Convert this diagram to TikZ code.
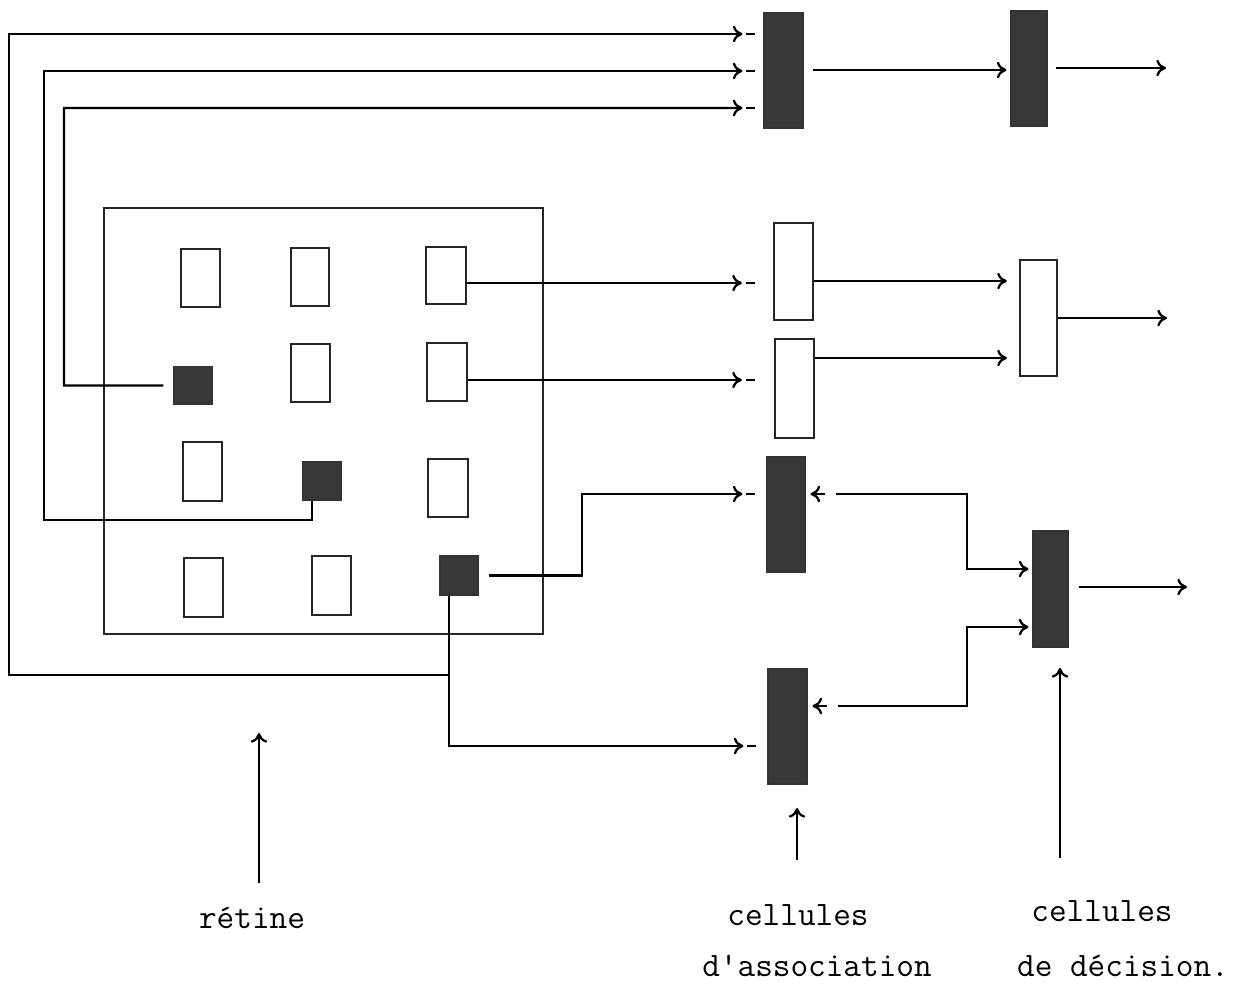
\documentclass[tikz,border=0pt]{standalone}
\usetikzlibrary{arrows.meta,calc,fit}
\newcommand{\mkbox}[6]{\node[#1, fit={(#3,#4) (#5,#6)}] (#2) {};}
\newcommand{\dashin}[3]{\draw ($(#1.west|-0,#2)+(#3+4,0)$) -- ($(#1.west|-0,#2)+(#3+13,0)$);}
\begin{document}
\begin{tikzpicture}[x=0.02cm,y=-0.02cm,
  line width=1.3pt,
  arr/.style={-{To[length=5.5pt,width=9.5pt]}},
  dark/.style={draw=black!80, fill=black!78, line width=0.6pt, inner sep=0pt},
  light/.style={draw=black!85, fill=white, line width=1.3pt, inner sep=0pt},
  frame/.style={draw=black!85, line width=1.3pt, inner sep=0pt},
  lbl/.style={font=\ttfamily\fontsize{19.5}{22}\selectfont, anchor=base, inner sep=0pt}]
\useasboundingbox (0,0) rectangle (1250,990);

% retina
\mkbox{frame}{R}{104}{208}{543}{634}
\mkbox{light}{r11}{181}{249}{220}{307}
\mkbox{light}{r12}{291}{248}{329}{306}
\mkbox{light}{r13}{426}{247}{466}{304}
\mkbox{dark}{r21}{174}{367}{212}{404}
\mkbox{light}{r22}{291}{344}{330}{402}
\mkbox{light}{r23}{427}{343}{467}{401}
\mkbox{light}{r31}{183}{442}{222}{501}
\mkbox{dark}{r32}{303}{462}{341}{500}
\mkbox{light}{r33}{428}{459}{468}{517}
\mkbox{light}{r41}{184}{558}{223}{617}
\mkbox{light}{r42}{312}{556}{351}{615}
\mkbox{dark}{r43}{440}{556}{478}{595}

% association and decision cells
\mkbox{dark}{A1}{764}{13}{803}{128}
\mkbox{dark}{B1}{1011}{11}{1047}{126}
\mkbox{light}{E1}{774}{223}{813}{320}
\mkbox{light}{E2}{775}{339}{814}{438}
\mkbox{light}{D2}{1020}{260}{1057}{376}
\mkbox{dark}{C1}{767}{457}{805}{572}
\mkbox{dark}{C2}{768}{669}{807}{784}
\mkbox{dark}{D3}{1033}{531}{1068}{647}

% helper coordinates
\coordinate (r43d) at ($(r43.south west)!0.24!(r43.south east)$);
\coordinate (r32d) at ($(r32.south west)!0.24!(r32.south east)$);
\coordinate (j1) at (r43d |- 0,675);

% retina to A1
\draw[arr] (j1) -| (9,34) -- ($(A1.west|-0,34)+(-21,0)$);
\draw[arr] (r32d) |- (44,520) |- ($(A1.west|-0,71)+(-21,0)$);
\draw[arr] ($(r21.west)+(-10,0)$) -- (64,385.5) |- ($(A1.west|-0,108)+(-21,0)$);
\dashin{A1}{34}{-21}
\dashin{A1}{71}{-21}
\dashin{A1}{108}{-21}

% retina to E1, E2
\draw[arr] (r13.east|-0,283) -- ($(E1.west|-0,283)+(-31,0)$);
\dashin{E1}{283}{-31}
\draw[arr] (r23.east|-0,380) -- ($(E2.west|-0,380)+(-32,0)$);
\dashin{E2}{380}{-32}

% retina to C1, C2
\draw[arr] ($(r43.east)+(10,0)$) -| (582,494) -- ($(C1.west|-0,494)+(-24,0)$);
\dashin{C1}{494}{-24}
\draw[arr] (r43d) |- ($(C2.west|-0,746)+(-24,0)$);
\dashin{C2}{746}{-24}

% A1 -> B1 -> out
\coordinate (outB) at (1166,68);
\draw[arr] ($(A1.east|-0,70)+(9,0)$) -- ($(B1.west|-0,70)+(-4,0)$);
\draw[arr] ($(B1.east|-0,68)+(8,0)$) -- (outB);

% E1, E2 -> D2 -> out
\coordinate (outD2) at (1167,318);
\draw[arr] (E1.east|-0,281) -- ($(D2.west|-0,281)+(-12,0)$);
\draw[arr] (E2.east|-0,358) -- ($(D2.west|-0,358)+(-12,0)$);
\draw[arr] (D2.east|-0,318) -- (outD2);

% C1, C2 <-> D3 -> out
\coordinate (outD3) at (1187,587);
\draw[arr] ($(C1.east|-0,494)+(30,0)$) -| (967,569) -- ($(D3.west|-0,569)+(-4,0)$);
\draw[arr] ($(C1.east|-0,494)+(19,0)$) -- ($(C1.east|-0,494)+(5,0)$);
\draw[arr] ($(C2.east|-0,706)+(30,0)$) -| (967,627) -- ($(D3.west|-0,627)+(-4,0)$);
\draw[arr] ($(C2.east|-0,706)+(19,0)$) -- ($(C2.east|-0,706)+(5,0)$);
\draw[arr] ($(D3.east|-0,587)+(10,0)$) -- (outD3);

% labels
\node[lbl] (lret) at (252,928) {rétine};
\node[lbl] (lass1) at (798,925) {cellules};
\node[lbl] (lass2) at (817,976) {d'association};
\node[lbl] (ldec1) at (1102,921) {cellules};
\node[lbl] (ldec2) at (1123,976) {de décision.};

\coordinate (pr1) at (259,883); \coordinate (pr2) at (259,733);
\coordinate (pa1) at (797,860); \coordinate (pa2) at (797,808);
\coordinate (pd1) at (1060,858); \coordinate (pd2) at (1060,668);
\draw[arr] (pr1) -- (pr2);
\draw[arr] (pa1) -- (pa2);
\draw[arr] (pd1) -- (pd2);
\end{tikzpicture}
\end{document}
